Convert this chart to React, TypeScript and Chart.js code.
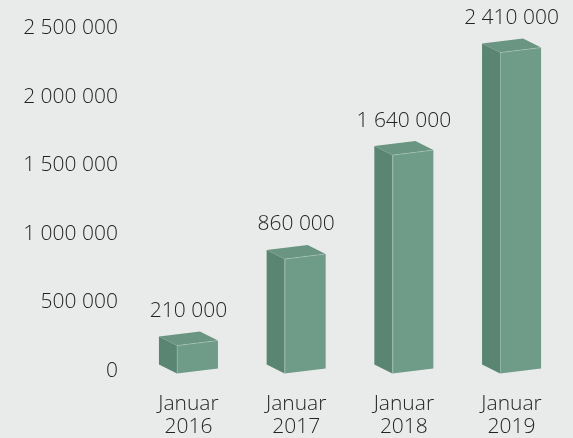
import React, { useEffect, useRef } from 'react';
import { Chart, registerables } from 'chart.js';

Chart.register(...registerables);

const categories: string[][] = [
  ['Januar', '2016'],
  ['Januar', '2017'],
  ['Januar', '2018'],
  ['Januar', '2019'],
];
const values: number[] = [210000, 860000, 1640000, 2410000];
const valueLabels: string[] = ['210 000', '860 000', '1 640 000', '2 410 000'];
const yTicks: number[] = [0, 500000, 1000000, 1500000, 2000000, 2500000];
const yTickLabels: string[] = ['0', '500 000', '1 000 000', '1 500 000', '2 000 000', '2 500 000'];

const BG = '#e9ebea';
const TEXT = '#232323';
const FRONT = '#6f9b89';
const SIDE = '#5b8573';
const TOP = '#699582';
const FONT = { family: "'Open Sans', 'Noto Sans', sans-serif", size: 21, weight: 300 as any, lineHeight: '23px' as any };

const bar3d = {
  id: 'bar3d',
  beforeDraw(chart: any) {
    const ctx = chart.ctx;
    ctx.save();
    ctx.fillStyle = BG;
    ctx.fillRect(0, 0, chart.width, chart.height);
    ctx.restore();
  },
  afterDatasetsDraw(chart: any) {
    const ctx = chart.ctx;
    const meta = chart.getDatasetMeta(0);
    const dx = 18;
    const dy = 9;
    const s = 2.5;
    meta.data.forEach((el: any, i: number) => {
      const { x, y, base, width } = el.getProps(['x', 'y', 'base', 'width'], true);
      const R = x + width / 2;
      const fl = R - (width - dx);
      ctx.save();
      // left side face
      ctx.beginPath();
      ctx.moveTo(fl, y + s);
      ctx.lineTo(fl, base + s);
      ctx.lineTo(fl - dx, base + s - dy);
      ctx.lineTo(fl - dx, y + s - dy);
      ctx.closePath();
      ctx.fillStyle = SIDE;
      ctx.fill();
      // front face
      ctx.beginPath();
      ctx.moveTo(fl, y + s);
      ctx.lineTo(R, y - s);
      ctx.lineTo(R, base - s);
      ctx.lineTo(fl, base + s);
      ctx.closePath();
      ctx.fillStyle = FRONT;
      ctx.fill();
      // top face
      ctx.beginPath();
      ctx.moveTo(fl, y + s);
      ctx.lineTo(R, y - s);
      ctx.lineTo(R - dx, y - s - dy);
      ctx.lineTo(fl - dx, y + s - dy);
      ctx.closePath();
      ctx.fillStyle = TOP;
      ctx.fill();
      // light edges
      ctx.strokeStyle = 'rgba(255,255,255,0.22)';
      ctx.lineWidth = 1;
      ctx.beginPath();
      ctx.moveTo(fl + 0.5, base + s);
      ctx.lineTo(fl + 0.5, y + s);
      ctx.lineTo(R, y - s);
      ctx.stroke();
      // value label
      ctx.fillStyle = TEXT;
      ctx.font = `${FONT.weight} ${FONT.size}px ${FONT.family}`;
      ctx.textAlign = 'center';
      ctx.textBaseline = 'middle';
      ctx.fillText(valueLabels[i], x, y - 32);
      ctx.restore();
    });
  },
};

export default function App() {
  const ref = useRef<HTMLCanvasElement | null>(null);
  useEffect(() => {
    document.body.style.margin = '0';
    document.body.style.background = BG;
    if (!ref.current) return;
    const chart = new Chart(ref.current, {
      type: 'bar',
      data: {
        labels: categories as any,
        datasets: [
          {
            data: values,
            yAxisID: 'yBars',
            backgroundColor: 'rgba(0,0,0,0)',
            borderWidth: 0,
            barPercentage: 0.548,
            categoryPercentage: 1,
          },
        ],
      },
      options: {
        animation: false,
        responsive: false,
        events: [],
        layout: { padding: { top: 25, right: 7.6, bottom: 0, left: 0 } },
        plugins: { legend: { display: false }, tooltip: { enabled: false } },
        scales: {
          x: {
            grid: { display: false, drawTicks: false },
            border: { display: false },
            afterFit: (scale: any) => {
              scale.height = 67;
            },
            ticks: { padding: 22, font: FONT, color: TEXT, maxRotation: 0, autoSkip: false },
          },
          y: {
            position: 'left',
            min: 0,
            max: 2500000,
            afterBuildTicks: (scale: any) => {
              scale.ticks = yTicks.map((v) => ({ value: v }));
            },
            afterFit: (scale: any) => {
              scale.width = 134.6;
            },
            grid: { display: false, drawTicks: false },
            border: { display: false },
            ticks: {
              padding: 16.6,
              font: FONT,
              color: TEXT,
              callback: (v: any) => yTickLabels[yTicks.indexOf(Number(v))],
            },
          },
          yBars: {
            display: false,
            position: 'left',
            min: 0,
            max: 2575000,
          },
        },
      },
      plugins: [bar3d],
    });
    return () => chart.destroy();
  }, []);
  return <canvas ref={ref} width={573} height={438} style={{ display: 'block' }} />;
}
